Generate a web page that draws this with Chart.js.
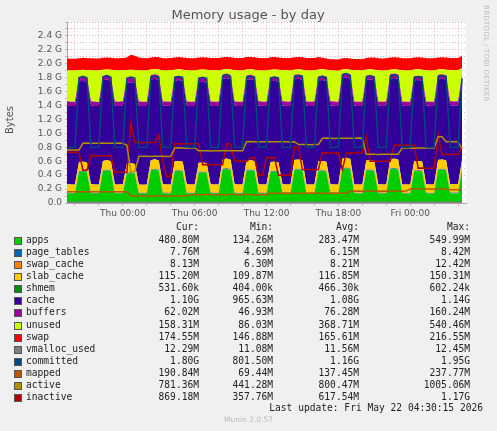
<!DOCTYPE html>
<html>
<head>
<meta charset="utf-8">
<script src="https://cdn.jsdelivr.net/npm/chart.js@4"></script>
<style>
  body { margin: 0; background: #f0f0f0; width: 497px; height: 431px; overflow: hidden; position: relative; font-family: "DejaVu Sans Mono", monospace; }
  #wrap { position: absolute; left: 0; top: 0; width: 497px; height: 222px; }
  #legend { position: absolute; left: 0; top: 221px; font-size: 9.6px; color: #222; }
  .row { position: absolute; left: 0; height: 12px; white-space: pre; }
  .sq { position: absolute; left: 14px; top: 3px; width: 6px; height: 6px; border: 1px solid #555; }
  .c { position: absolute; text-align: right; width: 80px; }
  #upd { position: absolute; right: 14px; top: 402px; font-size: 9.6px; color: #222; white-space: pre; }
  #munin { position: absolute; left: 0; width: 497px; text-align: center; top: 415px; font: 7.5px "DejaVu Sans"; color: #bbb; }
  #rrd { position: absolute; left: 482px; top: 5px; writing-mode: vertical-rl; font: 7px "DejaVu Sans"; color: #bbb; letter-spacing: 0.3px; }
</style>
</head>
<body>
<div id="wrap"><canvas id="c" width="497" height="222"></canvas></div>
<div id="rrd">RRDTOOL / TOBI OETIKER</div>
<div id="legend"></div>
<div id="upd">Last update: Fri May 22 04:30:15 2026</div>
<div id="munin">Munin 2.0.57</div>
<script>
// tiempo en horas desde Thu 00:00, un punto cada 20 min
const horaInicio = -4.667;
const tickHoras = [0, 6, 12, 18, 24];
const tickTextos = ["Thu 00:00", "Thu 06:00", "Thu 12:00", "Thu 18:00", "Fri 00:00"];

// valores en M
const apps = [140,135,135,445,450,440, 138,136,134,460,470,455, 137,135,140,425,430,420, 136,134,135,470,480,465,
  138,137,135,455,460,450, 137,135,136,435,440,430, 138,136,135,480,490,475, 137,136,134,465,470,460,
  139,137,135,445,450,440, 138,136,135,475,480,470, 137,135,136,455,460,450, 138,136,135,490,500,485,
  137,136,135,465,470,460, 138,137,136,485,490,480, 137,135,136,455,460,455, 138,136,135,475,480,470, 140,138,140,480];
const pageTables = [8,8,8,8,8,8, 8,8,8,8,8,8, 8,8,8,8,8,8, 8,8,8,8,8,8, 8,8,8,8,8,8, 8,8,8,8,8,8, 8,8,8,8,8,8, 8,8,8,8,8,8,
  8,8,8,8,8,8, 8,8,8,8,8,8, 8,8,8,8,8,8, 8,8,8,8,8,8, 8,8,8,8,8,8, 8,8,8,8,8,8, 8,8,8,8,8,8, 8,8,8,8,8,8, 8,8,8,8];
const swapCache = [8,8,8,8,8,8, 8,8,8,8,8,8, 8,8,8,8,8,8, 8,8,8,8,8,8, 8,8,8,8,8,8, 8,8,8,8,8,8, 8,8,8,8,8,8, 8,8,8,8,8,8,
  8,8,8,8,8,8, 8,8,8,8,8,8, 8,8,8,8,8,8, 8,8,8,8,8,8, 8,8,8,8,8,8, 8,8,8,8,8,8, 8,8,8,8,8,8, 8,8,8,8,8,8, 8,8,8,8];
const slab = [114,113,114,126,128,126, 115,113,114,128,130,127, 114,114,113,126,127,125, 115,113,114,129,131,128,
  114,113,114,127,128,126, 115,114,113,126,127,125, 114,113,114,130,132,129, 115,113,114,128,129,127,
  114,114,113,127,128,126, 115,113,114,128,130,128, 114,113,114,127,128,126, 115,114,113,131,133,130,
  114,113,114,128,129,127, 115,113,114,129,131,129, 114,114,113,127,128,126, 115,113,114,128,130,128, 115,114,114,127];
const shmem = [0.5,0.5,0.5,0.5,0.5,0.5, 0.5,0.5,0.5,0.5,0.5,0.5, 0.5,0.5,0.5,0.5,0.5,0.5, 0.5,0.5,0.5,0.5,0.5,0.5,
  0.5,0.5,0.5,0.5,0.5,0.5, 0.5,0.5,0.5,0.5,0.5,0.5, 0.5,0.5,0.5,0.5,0.5,0.5, 0.5,0.5,0.5,0.5,0.5,0.5,
  0.5,0.5,0.5,0.5,0.5,0.5, 0.5,0.5,0.5,0.5,0.5,0.5, 0.5,0.5,0.5,0.5,0.5,0.5, 0.5,0.5,0.5,0.5,0.5,0.5,
  0.5,0.5,0.5,0.5,0.5,0.5, 0.5,0.5,0.5,0.5,0.5,0.5, 0.5,0.5,0.5,0.5,0.5,0.5, 0.5,0.5,0.5,0.5,0.5,0.5, 0.5,0.5,0.5,0.5];
const cache = [1130,1128,1129,1158,1160,1158, 1131,1129,1128,1157,1158,1157, 1129,1128,1130,1160,1162,1160, 1130,1129,1128,1158,1159,1158,
  1131,1130,1129,1159,1161,1158, 1130,1128,1129,1158,1160,1157, 1129,1128,1130,1157,1158,1156, 1131,1129,1128,1160,1161,1159,
  1130,1128,1129,1159,1160,1158, 1131,1130,1128,1158,1159,1157, 1129,1128,1130,1160,1161,1160, 1130,1129,1128,1156,1157,1155,
  1131,1129,1130,1159,1160,1158, 1130,1128,1129,1157,1158,1156, 1129,1128,1130,1160,1161,1159, 1130,1129,1128,1159,1160,1158, 1131,1130,1130,1158];
const buffers = [60,61,60,63,64,63, 60,61,60,63,64,63, 61,60,61,63,64,63, 60,61,60,63,64,63, 60,60,61,63,64,63, 61,61,60,63,64,63,
  60,61,60,63,64,63, 60,61,61,63,64,63, 61,60,60,63,64,63, 60,61,60,63,64,63, 60,61,60,64,65,63, 61,61,60,63,64,63,
  60,61,60,63,64,63, 60,60,61,63,64,63, 61,61,60,63,64,63, 60,61,60,63,64,63, 61,60,61,63];
const unused = [445,450,448,100,95,105, 447,449,450,90,80,95, 448,450,446,120,115,125, 446,450,449,80,70,88,
  445,447,450,95,90,100, 447,450,449,115,110,123, 448,451,449,70,60,78, 446,449,450,85,80,90,
  444,448,449,105,100,110, 446,449,450,75,70,80, 448,450,448,95,90,100, 446,448,449,60,50,66,
  448,450,449,85,80,90, 447,448,448,65,60,70, 448,449,448,95,90,96, 446,449,450,75,70,80, 446,449,447,95];
const swap = [170,170,171,171,172,172, 172,172,173,173,173,174, 174,174,175,180,215,205, 185,178,176,175,175,175,
  175,175,176,176,176,176, 176,176,176,176,177,177, 177,177,177,177,177,177, 177,177,178,178,178,178,
  178,178,178,178,178,178, 178,178,178,178,178,178, 178,178,178,178,165,160, 160,160,160,161,161,161,
  161,162,162,165,172,174, 174,174,174,174,174,174, 174,174,174,174,174,174, 174,174,174,174,174,174, 174,175,175,175];
const vmalloc = [12,12,12,12,12,12, 12,12,12,12,12,12, 12,12,12,12,12,12, 12,12,12,12,12,12, 12,12,12,12,12,12, 12,12,12,12,12,12,
  12,12,12,12,12,12, 12,12,12,12,12,12, 12,12,12,12,12,12, 12,12,12,12,12,12, 12,12,12,12,12,12, 12,12,12,12,12,12,
  12,12,12,12,12,12, 12,12,12,12,12,12, 12,12,12,12,12,12, 12,12,12,12,12,12, 12,12,12,12];
const committed = [800,798,802,1800,1820,1800, 805,800,803,1810,1830,1805, 802,799,801,1790,1810,1795, 800,798,802,1805,1825,1810,
  803,801,799,1800,1815,1800, 801,800,802,1790,1805,1790, 800,798,801,1820,1840,1815, 802,800,799,1805,1820,1805,
  804,801,800,1795,1810,1795, 800,799,802,1815,1830,1815, 802,800,801,1800,1820,1800, 801,799,800,1840,1860,1830,
  803,800,802,1810,1825,1810, 800,801,799,1820,1840,1820, 802,800,801,1800,1815,1805, 801,799,802,1815,1830,1815, 805,800,802,1790];
const mapped = [160,160,161,160,162,162, 161,161,160,160,162,161, 160,160,161,160, 100,100,101,100,100,101,100,100,100,101,100,100,100,101,100,
  120,120,121,120,122,122,120,120,121,120,121,121,120,120,122,121,120,120,121,120,
  140,140,141,140,142,141,140,140,141,140,142,141,140,140,141,140,142,141,140,140,
  170,170,171,170,172,171,170,170,171,170,172,171,170,170,171,
  200,200,201,200,202,201,200,200,201,200, 190,190,191,191];
const active = [760,760,762,760, 860,862,860,858,860,861,860,859,860,862,860, 830, 450,452,
  670,672,670,668,670,671,670,669,670, 790,792,790,788,790,791, 750,752,750,748,750,751,750,749,750,752,750,749,
  880,882,880,878,880,881,880,879,880,882,880,878,880, 840,842,840,838,840,841,
  930,932,930,928,930,931,930,929,930,932,930, 700,702,700,698,700,701,700,699,700,
  790,792,790,788,790,791,790,789,790, 950,950, 880,882,880,878, 780];
const inactive = [730,730,732,730, 470,470, 680,682,680,678,680,681, 440,442,440,438, 1150, 870,872,870,868,870,871, 980, 600, 380,382,
  850,852,850,848,850,851,850, 550,552,550,548,550,551, 850,850, 600,602,600,598, 650,650,
  400,402, 650,652,650, 400,402,400,398, 800,800, 480,482,480,478,480, 720,722,720,718,720, 480,
  720,722,720,718,720, 950, 600,602,600,598,600,601, 830,832,830,828,830,831, 500,502,500,498,500, 980,
  700,702,700,698,700, 810];

const horas = apps.map((_, i) => horaInicio + i / 3);
const pts = arr => arr.map((v, i) => ({ x: horas[i], y: v / 1000 }));

const areas = [
  ["apps", apps, "#00cc00"], ["page_tables", pageTables, "#0066b3"], ["swap_cache", swapCache, "#ff8000"],
  ["slab_cache", slab, "#ffcc00"], ["shmem", shmem, "#008f00"], ["cache", cache, "#330099"],
  ["buffers", buffers, "#990099"], ["unused", unused, "#ccff00"], ["swap", swap, "#ff0000"]
];
const lineas = [
  ["vmalloc_used", vmalloc, "#808080"], ["committed", committed, "#00487d"], ["mapped", mapped, "#b35a00"],
  ["active", active, "#b38f00"], ["inactive", inactive, "#b30000"]
];

const datasets = [];
areas.forEach(([n, d, col], i) => datasets.push({
  label: n, data: pts(d), backgroundColor: col, borderColor: col, borderWidth: 0,
  fill: i === 0 ? "origin" : "-1", stack: "mem", order: 2, pointRadius: 0, tension: 0
}));
lineas.forEach(([n, d, col]) => datasets.push({
  label: n, data: pts(d), borderColor: col, backgroundColor: col, borderWidth: 1.5,
  fill: false, stack: n, order: 1, pointRadius: 0, tension: 0
}));

const grid = "rgba(220,120,120,0.55)";
const textos = {
  id: "textos",
  afterDraw(chart) {
    const c = chart.ctx;
    c.save();
    c.fillStyle = "#555";
    c.font = "13px 'DejaVu Sans'";
    c.textAlign = "center";
    c.fillText("Memory usage - by day", 248, 19);
    c.font = "10px 'DejaVu Sans'";
    c.translate(13, 120);
    c.rotate(-Math.PI / 2);
    c.fillText("Bytes", 0, 0);
    c.restore();
  }
};

new Chart(document.getElementById("c"), {
  type: "line",
  data: { datasets },
  options: {
    responsive: false, animation: false,
    layout: { padding: { left: 0, right: 31, top: 22, bottom: 0 } },
    plugins: { legend: { display: false }, tooltip: { enabled: false } },
    scales: {
      x: {
        type: "linear", min: horaInicio, max: horas[horas.length - 1] + 0.33,
        afterBuildTicks: s => { s.ticks = [-4,-2,0,2,4,6,8,10,12,14,16,18,20,22,24,26,28].map(v => ({ value: v })); },
        afterFit: s => { s.height = 19; },
        ticks: { autoSkip: false, maxRotation: 0, color: "#555", font: { family: "DejaVu Sans", size: 9 }, padding: 2,
          callback: v => { const k = tickHoras.indexOf(v); return k >= 0 ? tickTextos[k] : ""; } },
        grid: { color: grid, tickLength: 3, lineWidth: 1 },
        border: { color: "#aaa", dash: [1, 2] }
      },
      y: {
        stacked: true, min: 0, max: 2.6,
        afterBuildTicks: s => { s.ticks = []; for (let k = 0; k <= 26; k++) s.ticks.push({ value: k / 10 }); },
        afterFit: s => { s.width = 67; },
        ticks: { autoSkip: false, color: "#555", font: { family: "DejaVu Sans", size: 9 }, padding: 3,
          callback: v => { const k = Math.round(v * 10); if (k % 2 || k > 24) return ""; return k === 0 ? "0.0" : (k / 10).toFixed(1) + " G"; } },
        grid: { color: grid, tickLength: 2, lineWidth: 1 },
        border: { color: "#aaa", dash: [1, 2] }
      }
    }
  },
  plugins: [{ id: "fondo", beforeDraw(chart) { const a = chart.chartArea, c = chart.ctx; c.save(); c.fillStyle = "#fff"; c.fillRect(a.left, a.top, a.right - a.left, a.bottom - a.top); c.restore(); } }, textos]
});

// leyenda
const filas = [
  ["apps", "#00cc00", "480.80M", "134.26M", "283.47M", "549.99M"],
  ["page_tables", "#0066b3", "7.76M", "4.69M", "6.15M", "8.42M"],
  ["swap_cache", "#ff8000", "8.13M", "6.30M", "8.21M", "12.42M"],
  ["slab_cache", "#ffcc00", "115.20M", "109.87M", "116.85M", "150.31M"],
  ["shmem", "#008f00", "531.60k", "404.00k", "466.30k", "602.24k"],
  ["cache", "#330099", "1.10G", "965.63M", "1.08G", "1.14G"],
  ["buffers", "#990099", "62.02M", "46.93M", "76.28M", "160.24M"],
  ["unused", "#ccff00", "158.31M", "86.03M", "368.71M", "540.46M"],
  ["swap", "#ff0000", "174.55M", "146.88M", "165.61M", "216.55M"],
  ["vmalloc_used", "#808080", "12.29M", "11.08M", "11.56M", "12.45M"],
  ["committed", "#00487d", "1.80G", "801.50M", "1.16G", "1.95G"],
  ["mapped", "#b35a00", "190.84M", "69.44M", "137.45M", "237.77M"],
  ["active", "#b38f00", "781.36M", "441.28M", "800.47M", "1005.06M"],
  ["inactive", "#b30000", "869.18M", "357.76M", "617.54M", "1.17G"]
];
const leg = document.getElementById("legend");
const colR = [199, 273, 359, 470];
let h = `<div class="row" style="top:0">`;
["Cur:", "Min:", "Avg:", "Max:"].forEach((t, j) => { h += `<span class="c" style="left:${colR[j] - 80}px">${t}</span>`; });
h += `</div>`;
filas.forEach((f, i) => {
  h += `<div class="row" style="top:${13 + i * 12.08}px"><span class="sq" style="background:${f[1]}"></span><span style="position:absolute;left:26px">${f[0]}</span>`;
  for (let j = 0; j < 4; j++) h += `<span class="c" style="left:${colR[j] - 80}px">${f[j + 2]}</span>`;
  h += `</div>`;
});
leg.innerHTML = h;
</script>
</body>
</html>
